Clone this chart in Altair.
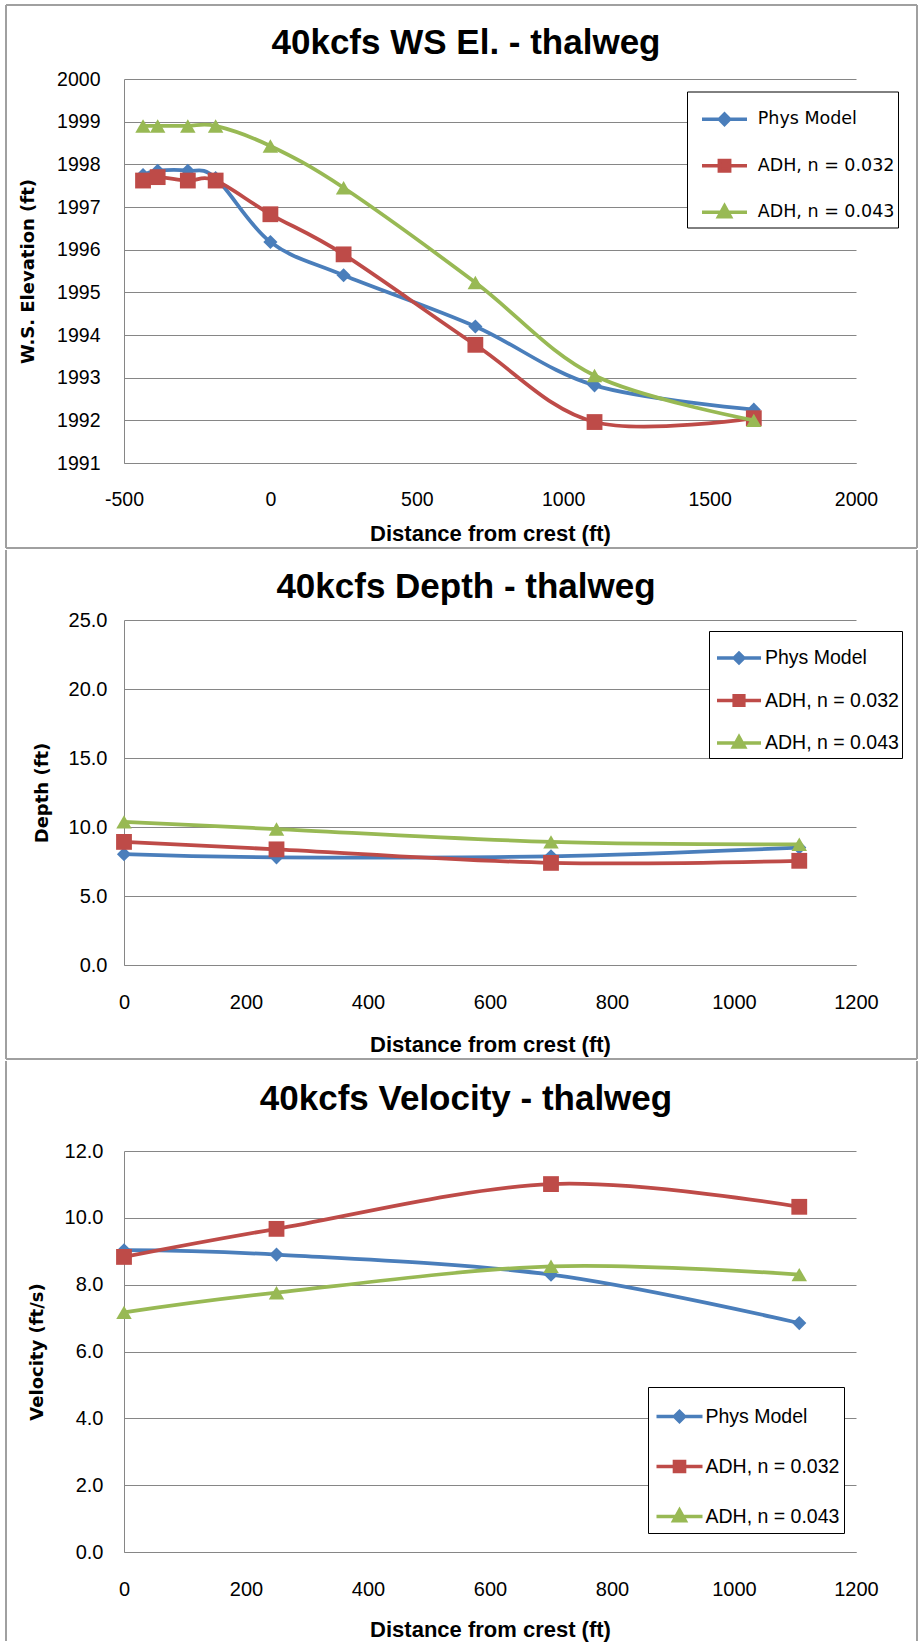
import altair as alt
import pandas as pd

SERIES = ["Phys Model", "ADH, n = 0.032", "ADH, n = 0.043"]
COLORS = ["#4A7EBB", "#BE4B48", "#98B954"]
SHAPES = ["diamond", "square", "triangle-up"]
SIZES = [200, 250, 240]

# Panel 1: water-surface elevation
ws_x = [-435, -385, -282, -187, 0, 250, 700, 1107, 1651]
ws_phys = [1997.75, 1997.85, 1997.85, 1997.68, 1996.18, 1995.40, 1994.20, 1992.82, 1992.25]
ws_032 = [1997.62, 1997.70, 1997.62, 1997.62, 1996.83, 1995.89, 1993.77, 1991.96, 1992.05]
ws_043 = [1998.90, 1998.90, 1998.90, 1998.90, 1998.43, 1997.45, 1995.23, 1993.05, 1992.00]

# Panel 2: depth
dep_x = [0, 250, 700, 1107]
dep_phys = [8.03, 7.80, 7.88, 8.51]
dep_032 = [8.92, 8.38, 7.40, 7.55]
dep_043 = [10.37, 9.85, 8.92, 8.75]

# Panel 3: velocity
vel_x = [0, 250, 700, 1107]
vel_phys = [9.03, 8.90, 8.30, 6.85]
vel_032 = [8.83, 9.67, 11.01, 10.33]
vel_043 = [7.17, 7.76, 8.55, 8.30]

BORDER = "#A0A0A0"
GRID = "#868686"
LW = 3.75


def long_df(xs, cols):
    rows = []
    for s, vals in zip(SERIES, cols):
        for x, v in zip(xs, vals):
            rows.append({"x": x, "v": v, "series": s})
    return pd.DataFrame(rows)


def sym_paths(h):
    d = "M-1,0H1M0,-{h}L{h},0L0,{h}L-{h},0Z".format(h=h)
    s = "M-1,0H1M-{h},-{h}H{h}V{h}H-{h}Z".format(h=h)
    t = "M-1,0H1M0,-{a}L{b},{c}H-{b}Z".format(a=round(h * 1.25, 3), b=round(h * 1.15, 3), c=round(h * 0.85, 3))
    return [d, s, t]


def panel(g):
    W, H = g["W"], g["H"]
    df = long_df(g["xs"], g["cols"])
    paths = sym_paths(g["mh"])
    lkw = dict(
        title=None, orient="none", legendX=g["lx"], legendY=g["ly"],
        fillColor="white", strokeColor="black", padding=g["lpad"],
        rowPadding=g["lrow"], symbolSize=g["lsym"] ** 2, symbolStrokeWidth=3.5,
        symbolOpacity=1, symbolOffset=g["soff"],
        labelFont=g["lfont"], labelFontSize=g["lfs"], labelColor="black",
        labelOffset=g["loff"], labelLimit=300,
    )
    if g.get("lsuffix"):
        lkw["labelExpr"] = "datum.label + '%s'" % g["lsuffix"]
    legend = alt.Legend(**lkw)
    X = alt.X("x:Q", scale=alt.Scale(domain=g["xdom"], nice=False, zero=False),
              axis=alt.Axis(values=g["xvals"], labelExpr="'' + datum.value", grid=False,
                            domain=True, domainColor=GRID, domainWidth=1, ticks=False,
                            labelFlush=False, labelOverlap=False,
                            labelPadding=27, labelFont="Liberation Sans", labelFontSize=g["tfs"],
                            labelColor="black", title="Distance from crest (ft)",
                            titleFont="Liberation Sans", titleFontWeight="bold", titleFontSize=22,
                            titleColor="black", titleBaseline="middle", titleY=g["xty"],
                            titleX=W / 2, titleAlign="center"))
    Y = alt.Y("v:Q", scale=alt.Scale(domain=g["ydom"], nice=False, zero=False),
              axis=alt.Axis(values=g["yvals"], format=g["yfmt"], grid=True, gridColor=GRID,
                            gridWidth=1, domain=True, domainColor=GRID, domainWidth=1,
                            labelFlush=False, labelOverlap=False,
                            ticks=False, labelPadding=g["ylp"], labelFont="Liberation Sans",
                            labelFontSize=g["tfs"], labelColor="black", title=g["ytitle"],
                            titleFont="DejaVu Sans", titleFontWeight="bold", titleFontSize=18,
                            titleColor="black", titleAngle=270, titleBaseline="middle",
                            titleAlign="center", titleX=g["ytx"], titleY=H / 2))

    one = pd.DataFrame({"k": [0]})
    L, R, T, B = g["L"], g["R"], g["T"], g["B"]
    layers = []
    rule = alt.Chart(one).mark_rule(color=BORDER, strokeWidth=2)
    layers.append(rule.encode(x=alt.value(L), y=alt.value(T), y2=alt.value(B)))
    layers.append(rule.encode(x=alt.value(R), y=alt.value(T), y2=alt.value(B)))
    if g.get("bottom", True):
        layers.append(rule.encode(x=alt.value(L), x2=alt.value(R), y=alt.value(B)))
    if g.get("top", False):
        layers.append(rule.encode(x=alt.value(L), x2=alt.value(R), y=alt.value(T)))
    layers.append(
        alt.Chart(pd.DataFrame({"t": [g["title"]]}))
        .mark_text(font="Liberation Sans", fontSize=35, fontWeight="bold", color="black",
                   align="center", baseline="alphabetic")
        .encode(text="t:N", x=alt.value(g["tx"]), y=alt.value(g["ty"]))
    )
    for s, c, shp, sz in zip(SERIES, COLORS, SHAPES, SIZES):
        base = alt.Chart(df).transform_filter(alt.datum.series == s).encode(x=X, y=Y)
        layers.append(base.mark_line(interpolate="cardinal", strokeWidth=LW, color=c))
        layers.append(base.mark_point(shape=shp, size=sz, filled=True, opacity=1,
                                      strokeWidth=0, color=c))
    # invisible layer that only carries the legend (line + marker symbols)
    sc = alt.Scale(domain=SERIES, range=COLORS)
    layers.append(
        alt.Chart(df).mark_point(filled=True, opacity=0).encode(
            x=X, y=Y,
            fill=alt.Fill("series:N", scale=sc, legend=legend),
            stroke=alt.Stroke("series:N", scale=sc, legend=legend),
            shape=alt.Shape("series:N", scale=alt.Scale(domain=SERIES, range=paths), legend=legend),
        )
    )
    return alt.layer(*layers).properties(width=W, height=H)


P1 = dict(W=732, H=384, xs=ws_x, cols=[ws_phys, ws_032, ws_043],
          xdom=[-500, 2000], xvals=[-500, 0, 500, 1000, 1500, 2000],
          ydom=[1991, 2000], yvals=list(range(1991, 2001)), yfmt="d",
          ytitle="W.S. Elevation (ft)", ytx=-96, ylp=24, xty=70, tfs=19.5,
          L=-118, R=793, T=-74, B=469, top=True,
          title="40kcfs WS El. - thalweg", tx=342, ty=-25,
          lx=563, ly=12.5, lpad=3.25, lrow=9.5, soff=9.75, loff=8.75, lsuffix="\u00a0\u00a0\u00a0",
          lsym=45, mh=0.23, lfont="DejaVu Sans", lfs=17.5)
P2 = dict(W=732, H=345, xs=dep_x, cols=[dep_phys, dep_032, dep_043],
          xdom=[0, 1200], xvals=[0, 200, 400, 600, 800, 1000, 1200],
          ydom=[0, 25], yvals=[0, 5, 10, 15, 20, 25], yfmt=".1f",
          ytitle="Depth (ft)", ytx=-82, ylp=17, xty=79, tfs=20,
          L=-118, R=793, T=-70, B=439,
          title="40kcfs Depth - thalweg", tx=342, ty=-22,
          lx=585, ly=11, lpad=3, lrow=6.5, soff=3, loff=2,
          lsym=44, mh=0.22, lfont="Liberation Sans", lfs=19.5)
P3 = dict(W=732, H=401, xs=vel_x, cols=[vel_phys, vel_032, vel_043],
          xdom=[0, 1200], xvals=[0, 200, 400, 600, 800, 1000, 1200],
          ydom=[0, 12], yvals=[0, 2, 4, 6, 8, 10, 12], yfmt=".1f",
          ytitle="Velocity (ft/s)", ytx=-87, ylp=21, xty=77, tfs=20,
          L=-118, R=793, T=-90, B=490, bottom=False,
          title="40kcfs Velocity - thalweg", tx=342, ty=-41,
          lx=524, ly=236, lpad=4.5, lrow=12, soff=2, loff=1,
          lsym=46, mh=0.22, lfont="Liberation Sans", lfs=19.5)

chart = alt.ConcatChart(
    concat=[panel(P1), panel(P2), panel(P3)], columns=1, spacing=0
).resolve_scale(
    fill="independent", stroke="independent", shape="independent"
).properties(
    padding={"left": 5, "top": 4, "right": 0, "bottom": 0}, background="white"
).configure_view(strokeWidth=0)

chart.save("out.html", embed_options={"renderer": "svg", "actions": False})
